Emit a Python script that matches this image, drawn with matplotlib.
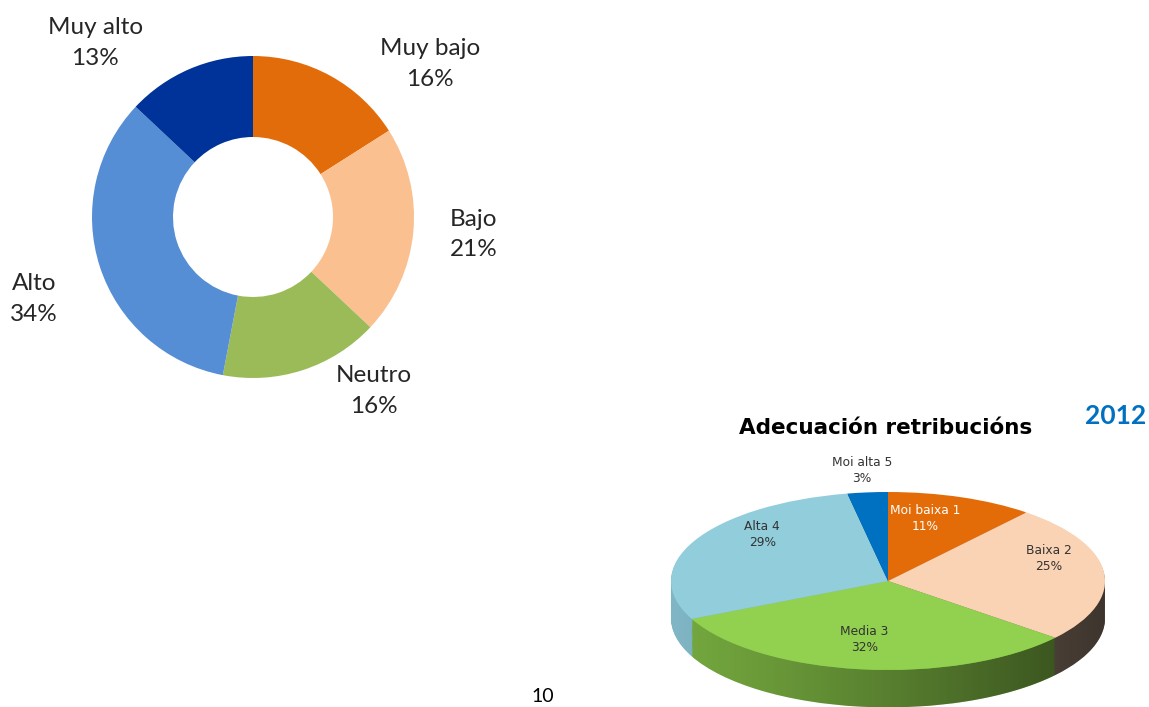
import numpy as np
import matplotlib
matplotlib.use("Agg")
import matplotlib.pyplot as plt
from matplotlib.path import Path
from matplotlib.patches import PathPatch

plt.rcParams['font.family'] = ['Lato', 'DejaVu Sans']

# donut chart (left)
donut_labels = ['Muy bajo', 'Bajo', 'Neutro', 'Alto', 'Muy alto']
donut_values = [16, 21, 16, 34, 13]
donut_colors = ['#E36C0A', '#FAC090', '#9BBB59', '#558ED5', '#003399']
# label positions in units of the outer radius
donut_label_pos = [(1.10, 0.95), (1.37, -0.11), (0.75, -1.08), (-1.36, -0.51), (-0.98, 1.08)]

# 3d pie (right)
pie_title = 'Adecuación retribucións'
pie_year = '2012'
pie_labels = ['Moi baixa 1', 'Baixa 2', 'Media 3', 'Alta 4', 'Moi alta 5']
pie_values = [11, 25, 32, 29, 3]
pie_colors = ['#E36C09', '#FAD3B4', '#92D050', '#92CDDC', '#0070C0']
pie_side_colors = ['#A85008', '#8C7868', '#74A83E', '#7FB5C4', '#005A9A']
pie_label_pos = [(0.17, 0.70), (0.74, 0.25), (-0.11, -0.66), (-0.58, 0.52), (-0.12, 1.24)]
pie_label_colors = ['white', '#333333', '#333333', '#333333', '#333333']

W, H = 1149, 707
fig = plt.figure(figsize=(W / 100, H / 100), dpi=100)

# ---- donut, drawn in a pixel-sized data space
ax = fig.add_axes([0, 0, 1, 1])
cx, cy, R = 253, H - 217, 161
ax.pie(donut_values, colors=donut_colors, startangle=90, counterclock=False,
       center=(cx, cy), radius=R,
       wedgeprops=dict(width=R - 80, linewidth=0))
for lab, val, (px, py) in zip(donut_labels, donut_values, donut_label_pos):
    ax.text(cx + px * R, cy + py * R, '%s\n%d%%' % (lab, val),
            ha='center', va='center', fontsize=17.5, color='#262626',
            linespacing=1.55)
ax.text(543, H - 697, '10', ha='center', va='center', fontsize=14, color='black')
ax.text(886, H - 428, pie_title, ha='center', va='center', fontsize=15.5,
        fontweight='bold', color='black', family='DejaVu Sans')
ax.text(1116, H - 416, pie_year, ha='center', va='center', fontsize=19,
        fontweight='bold', color='#0070C0')
ax.set_xlim(0, W)
ax.set_ylim(0, H)
ax.set_aspect('auto')
ax.axis('off')

# ---- 3d-looking pie: squashed pie with stacked copies for the side
ex, ey, a, b = 888, 581, 217, 89
depth = 0.42
ax2 = fig.add_axes([(ex - a) / W, (H - ey - b - depth * b) / H,
                    2 * a / W, (2 + depth) * b / H])
nsteps = 40
for k in range(nsteps, 0, -1):
    ax2.pie(pie_values, colors=pie_side_colors, startangle=90, counterclock=False,
            center=(0, -depth * k / nsteps), radius=1,
            wedgeprops=dict(linewidth=0))

# horizontal shading on the side band, darker to the right
t = np.linspace(np.pi, 2 * np.pi, 200)
band = np.vstack([np.column_stack([np.cos(t), np.sin(t)]),
                  np.column_stack([np.cos(t[::-1]), np.sin(t[::-1]) - depth])])
clip = PathPatch(Path(band), transform=ax2.transData, facecolor='none', edgecolor='none')
ax2.add_patch(clip)
shade = np.zeros((1, 256, 4))
shade[0, :, 3] = np.linspace(0.0, 0.62, 256) ** 1.2
img = ax2.imshow(shade, extent=(-1, 1, -1 - depth, 0), aspect='auto', zorder=3)
img.set_clip_path(clip)

top = ax2.pie(pie_values, colors=pie_colors, startangle=90, counterclock=False,
              center=(0, 0), radius=1, wedgeprops=dict(linewidth=0))
for w in top[0]:
    w.set_zorder(4)
for lab, val, (px, py), c in zip(pie_labels, pie_values, pie_label_pos, pie_label_colors):
    ax2.text(px, py, '%s\n%d%%' % (lab, val), ha='center', va='center',
             fontsize=8.8, color=c, linespacing=1.35, family='DejaVu Sans', zorder=5)
ax2.set_aspect('auto')
ax2.set_xlim(-1, 1)
ax2.set_ylim(-1 - depth, 1)
ax2.axis('off')

fig.savefig('out.png', dpi=100)
